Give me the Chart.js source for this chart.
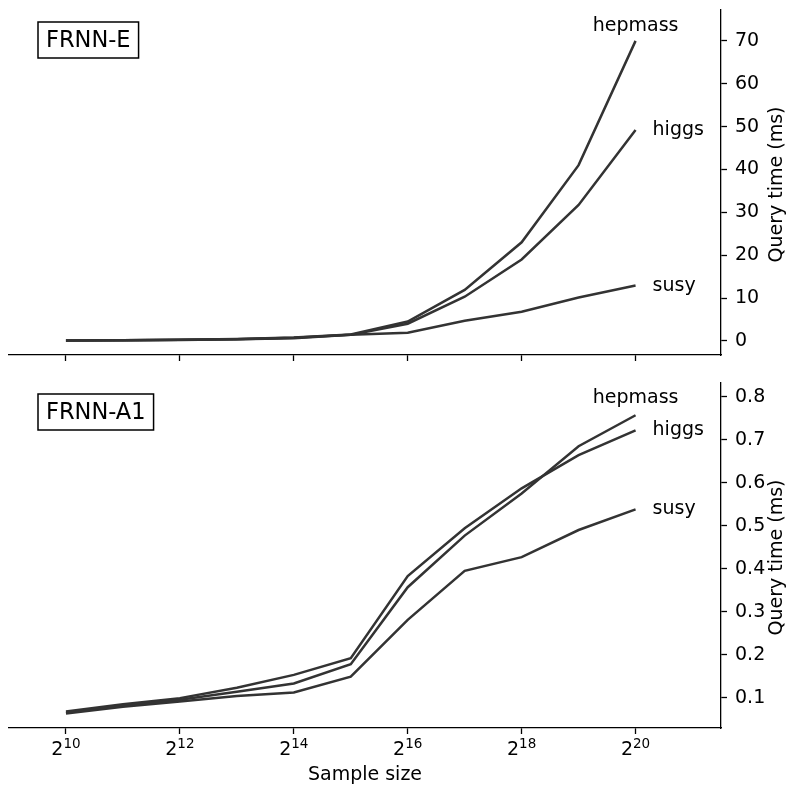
<!DOCTYPE html>
<html>
<head>
<meta charset="utf-8">
<script src="https://cdn.jsdelivr.net/npm/chart.js@4"></script>
<style>
  body { margin: 0; background: #fff; }
  #wrap { position: relative; width: 789px; height: 786px; }
  canvas { position: absolute; left: 0; }
</style>
</head>
<body>
<div id="wrap">
  <canvas id="topChart" width="789" height="370" style="top:0"></canvas>
  <canvas id="bottomChart" width="789" height="416" style="top:370px"></canvas>
</div>
<script>
// x 軸：樣本數 2^k 的指數
const sizeExp = [10, 11, 12, 13, 14, 15, 16, 17, 18, 19, 20];
const xTickExp = [10, 12, 14, 16, 18, 20];

// FRNN-E 查詢時間 (ms)
const feHepmass = [0.1, 0.15, 0.25, 0.45, 0.8, 1.5, 4.5, 11.9, 23, 41, 70];
const feHiggs   = [0.1, 0.15, 0.25, 0.4, 0.7, 1.4, 4.0, 10.3, 19, 31.7, 49.2];
const feSusy    = [0.1, 0.15, 0.2, 0.35, 0.6, 1.4, 1.9, 4.7, 6.8, 10.1, 12.9];
const feTicks   = [0, 10, 20, 30, 40, 50, 60, 70];

// FRNN-A1 查詢時間 (ms)
const a1Hepmass = [0.065, 0.082, 0.095, 0.114, 0.133, 0.178, 0.357, 0.477, 0.575, 0.685, 0.757];
const a1Higgs   = [0.068, 0.085, 0.099, 0.123, 0.153, 0.192, 0.383, 0.494, 0.587, 0.664, 0.722];
const a1Susy    = [0.063, 0.079, 0.091, 0.104, 0.112, 0.149, 0.281, 0.395, 0.427, 0.49, 0.538];
const a1Ticks   = [0.1, 0.2, 0.3, 0.4, 0.5, 0.6, 0.7, 0.8];

const seriesNames = ['hepmass', 'higgs', 'susy'];
const LINE = '#333333';
const FONT = '"DejaVu Sans", sans-serif';
const FS = 19;

function toPoints(vals) {
    return vals.map((v, i) => ({ x: sizeExp[i], y: v }));
}

// 端點文字、面板標籤與 y 軸標題
const decorPlugin = {
    id: 'decor',
    afterDraw(chart, args, opts) {
        const ctx = chart.ctx;
        const xs = chart.scales.x, ys = chart.scales.y;
        ctx.save();
        ctx.fillStyle = '#000';
        ctx.font = FS + 'px ' + FONT;
        chart.data.datasets.forEach((ds, i) => {
            const last = ds.data[ds.data.length - 1];
            const px = xs.getPixelForValue(last.x);
            const py = ys.getPixelForValue(last.y);
            ctx.textBaseline = 'middle';
            if (i === 0) {
                ctx.textAlign = 'center';
                ctx.fillText(ds.label, px, py - opts.topLift);
            } else {
                ctx.textAlign = 'left';
                ctx.fillText(ds.label, px + 17, py);
            }
        });

        // 面板標籤框
        ctx.font = '22.5px ' + FONT;
        const tw = ctx.measureText(opts.tag).width;
        const bx = 38, by = opts.tagTop, bw = tw + 16, bh = 36;
        ctx.lineWidth = 1.5;
        ctx.strokeStyle = '#000';
        ctx.strokeRect(bx, by, bw, bh);
        ctx.textAlign = 'center';
        ctx.textBaseline = 'middle';
        ctx.fillText(opts.tag, bx + bw / 2, by + bh / 2 + 1);

        // y 軸標題（由下往上）
        const ca = chart.chartArea;
        ctx.font = FS + 'px ' + FONT;
        ctx.translate(777, (ca.top + ca.bottom) / 2 + 2);
        ctx.rotate(-Math.PI / 2);
        ctx.fillText('Query time (ms)', 0, 0);
        ctx.restore();

        // x 軸刻度 2^k
        if (opts.xLabels) {
            ctx.save();
            ctx.fillStyle = '#000';
            ctx.textBaseline = 'alphabetic';
            ctx.textAlign = 'left';
            xTickExp.forEach(k => {
                const cx = xs.getPixelForValue(k);
                ctx.font = FS + 'px ' + FONT;
                const w1 = ctx.measureText('2').width;
                ctx.font = '13.5px ' + FONT;
                const w2 = ctx.measureText(String(k)).width;
                const x0 = cx - (w1 + w2) / 2;
                ctx.font = FS + 'px ' + FONT;
                ctx.fillText('2', x0, ca.bottom + 27);
                ctx.font = '13.5px ' + FONT;
                ctx.fillText(String(k), x0 + w1, ca.bottom + 20);
            });
            ctx.restore();
        }
    }
};

function makePanel(canvasId, vals, yTicks, yMin, yMax, fmt, cfg) {
    const ctx = document.getElementById(canvasId).getContext('2d');
    return new Chart(ctx, {
        type: 'line',
        data: {
            datasets: vals.map((v, i) => ({
                label: seriesNames[i],
                data: toPoints(v),
                borderColor: LINE,
                borderWidth: 2.5,
                pointRadius: 0,
                tension: 0,
                fill: false
            }))
        },
        options: {
            responsive: false,
            animation: false,
            layout: { padding: { left: 9, top: cfg.padTop, right: 0, bottom: 0 } },
            plugins: {
                legend: { display: false },
                tooltip: { enabled: false },
                decor: cfg.decor
            },
            scales: {
                x: {
                    type: 'linear',
                    min: 9,
                    max: 21.5,
                    afterBuildTicks: s => { s.ticks = xTickExp.map(v => ({ value: v })); },
                    afterFit: s => {
                        s.height = cfg.xHeight;
                        s.paddingLeft = 0; s.paddingRight = 0;
                    },
                    ticks: { callback: () => '', padding: 0 },
                    grid: { drawOnChartArea: false, drawTicks: true, tickLength: 6, color: '#000', tickWidth: 1.3 },
                    border: { display: true, color: '#000', width: 1.3 },
                    title: cfg.xTitle
                },
                y: {
                    type: 'linear',
                    position: 'right',
                    min: yMin,
                    max: yMax,
                    afterBuildTicks: s => { s.ticks = yTicks.map(v => ({ value: v })); },
                    afterFit: s => {
                        s.width = 68;
                        s.paddingTop = 0; s.paddingBottom = 0;
                    },
                    ticks: {
                        callback: fmt,
                        color: '#000',
                        padding: 8,
                        font: { family: FONT, size: FS }
                    },
                    grid: { drawOnChartArea: false, drawTicks: true, tickLength: 6, color: '#000', tickWidth: 1.3 },
                    border: { display: true, color: '#000', width: 1.3 }
                }
            }
        },
        plugins: [decorPlugin]
    });
}

makePanel('topChart', [feHepmass, feHiggs, feSusy], feTicks, -3.3, 77.2,
    v => String(v),
    {
        padTop: 10,
        xHeight: 15,
        xTitle: { display: false },
        decor: { tag: 'FRNN-E', tagTop: 22, topLift: 15, xLabels: false }
    });

makePanel('bottomChart', [a1Hepmass, a1Higgs, a1Susy], a1Ticks, 0.0295, 0.832,
    v => v.toFixed(1),
    {
        padTop: 13,
        xHeight: 58,
        xTitle: {
            display: true,
            text: 'Sample size',
            color: '#000',
            font: { family: FONT, size: FS },
            padding: { top: 0, bottom: 0 }
        },
        decor: { tag: 'FRNN-A1', tagTop: 24, topLift: 17, xLabels: true }
    });
</script>
</body>
</html>
